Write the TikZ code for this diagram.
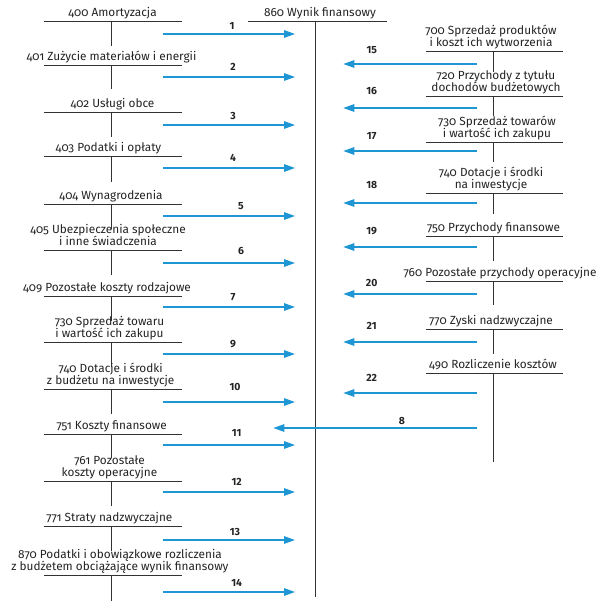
\documentclass[tikz,border=0pt]{standalone}
\usepackage{fontspec}
\setmainfont{Fira Sans}[Numbers=OldStyle]
\newfontfamily\numfam{Fira Sans}[Numbers=Lining]
\usetikzlibrary{arrows.meta}
\definecolor{flowblue}{RGB}{30,150,212}
\definecolor{linegray}{RGB}{50,50,50}
\definecolor{textc}{RGB}{35,35,35}
\newcommand{\lblfont}{\fontsize{11.8}{12.4}\selectfont}
\newcommand{\numfnt}{\numfam\bfseries\fontsize{10.4}{11}\selectfont}
\tikzset{
  acct/.style={draw=linegray, line width=1pt},
  lbl/.style={anchor=south, inner sep=0pt, align=center, font=\lblfont, text=textc},
  num/.style={inner sep=0pt, font=\numfnt, text=textc},
  flow/.style={draw=flowblue, line width=1.4pt, -{Triangle[length=11pt,width=7.5pt]}},
}
\begin{document}
\begin{tikzpicture}[x=1pt,y=-1pt]
\useasboundingbox (0,0) rectangle (604,605);
% ---------- left accounts ----------
\foreach \id/\ly/\cx/\vl/\txt in {
  400/21.5/112.5/24/{400 Amortyzacja},
  401/65.5/111.5/23/{401 Zużycie materiałów i energii},
  402/112.5/112.5/24/{402 Usługi obce},
  403/156.5/108.5/25/{403 Podatki i opłaty},
  404/204.5/111/24/{404 Wynagrodzenia},
  405/250.5/108/24/{405 Ubezpieczenia społeczne\\ i inne świadczenia},
  409/296.5/107/24/{409 Pozostałe koszty rodzajowe},
  730/342.5/109.5/24/{730 Sprzedaż towaru\\ i wartość ich zakupu},
  740/389.5/110.7/24/{740 Dotacje i środki\\ z budżetu na inwestycje},
  751/434.5/111.7/23/{751 Koszty finansowe},
  761/481.5/109.5/24/{761 Pozostałe\\ koszty operacyjne},
  771/526.5/109.3/24/{771 Straty nadzwyczajne},
  870/575.5/120/25/{870 Podatki i obowiązkowe rozliczenia\\ z budżetem obciążające wynik finansowy}}
{
  \node[lbl] (L\id) at (\cx,\ly-0.6) {\txt\strut};
  \coordinate (La\id) at (44,\ly);
  \coordinate (Lb\id) at (182,\ly);
  \coordinate (Lt\id) at (111.5,\ly);
  \draw[acct] (La\id) -- (Lb\id) (Lt\id) -- ++(0,\vl);
}
% ---------- right accounts ----------
\foreach \id/\ly/\cx/\vl/\txt in {
  700/51.5/491/20/{700 Sprzedaż produktów\\ i koszt ich wytworzenia},
  720/96.5/496/19/{720 Przychody z tytułu\\ dochodów budżetowych},
  730/142.5/497/19/{730 Sprzedaż towarów\\ i wartość ich zakupu},
  740/193.5/491/20/{740 Dotacje i środki\\ na inwestycje},
  750/236.5/493.5/24/{750 Przychody finansowe},
  760/281.5/500/23/{760 Pozostałe przychody operacyjne},
  770/329.5/491/24/{770 Zyski nadzwyczajne},
  490/373.5/493/88/{490 Rozliczenie kosztów}}
{
  \node[lbl] (R\id) at (\cx,\ly-0.6) {\txt\strut};
  \coordinate (Ra\id) at (426,\ly);
  \coordinate (Rb\id) at (563,\ly);
  \coordinate (Rt\id) at (493.5,\ly);
  \draw[acct] (Ra\id) -- (Rb\id) (Rt\id) -- ++(0,\vl);
}
% ---------- central account ----------
\node[lbl] (C860) at (320,20.9) {860 Wynik finansowy\strut};
\coordinate (Ca) at (248,21.5);
\coordinate (Cb) at (387,21.5);
\coordinate (Ct) at (315.5,21.5);
\coordinate (Cbot) at (315.5,597);
\draw[acct] (Ca) -- (Cb) (Ct) -- (Cbot);
% ---------- left flows ----------
\foreach \n/\y/\nx/\ny in {
  1/34/232/26, 2/77/233/66.7, 3/125/233/116, 4/168/233/158.3,
  5/216/241/206, 6/263/241/251, 7/307/233/297.3, 9/354/233/344.3,
  10/402/235/386.7, 11/445/236.7/433.3, 12/492/236.7/481.7,
  13/540/235/532.3, 14/592/236.7/582.7}
{
  \coordinate (fs\n) at (163,\y);
  \coordinate (fe\n) at (295,\y);
  \draw[flow] (fs\n) -- (fe\n);
  \node[num] (fn\n) at (\nx,\ny) {\n};
}
% ---------- right flows ----------
\foreach \n/\y/\nx/\ny in {
  15/64/371.7/50, 16/108/371.7/91, 17/151/371.7/136, 18/203/371.7/185,
  19/247/371.7/231, 20/294/371.7/282.7, 21/342/371.7/326,
  22/393/371.7/377.7}
{
  \coordinate (fs\n) at (476.7,\y);
  \coordinate (fe\n) at (343.3,\y);
  \draw[flow] (fs\n) -- (fe\n);
  \node[num] (fn\n) at (\nx,\ny) {\n};
}
% ---------- flow 8 ----------
\coordinate (fs8) at (476.7,428);
\coordinate (fe8) at (273.3,428);
\draw[flow] (fs8) -- (fe8);
\node[num] (fn8) at (402,420.7) {8};
\end{tikzpicture}
\end{document}
